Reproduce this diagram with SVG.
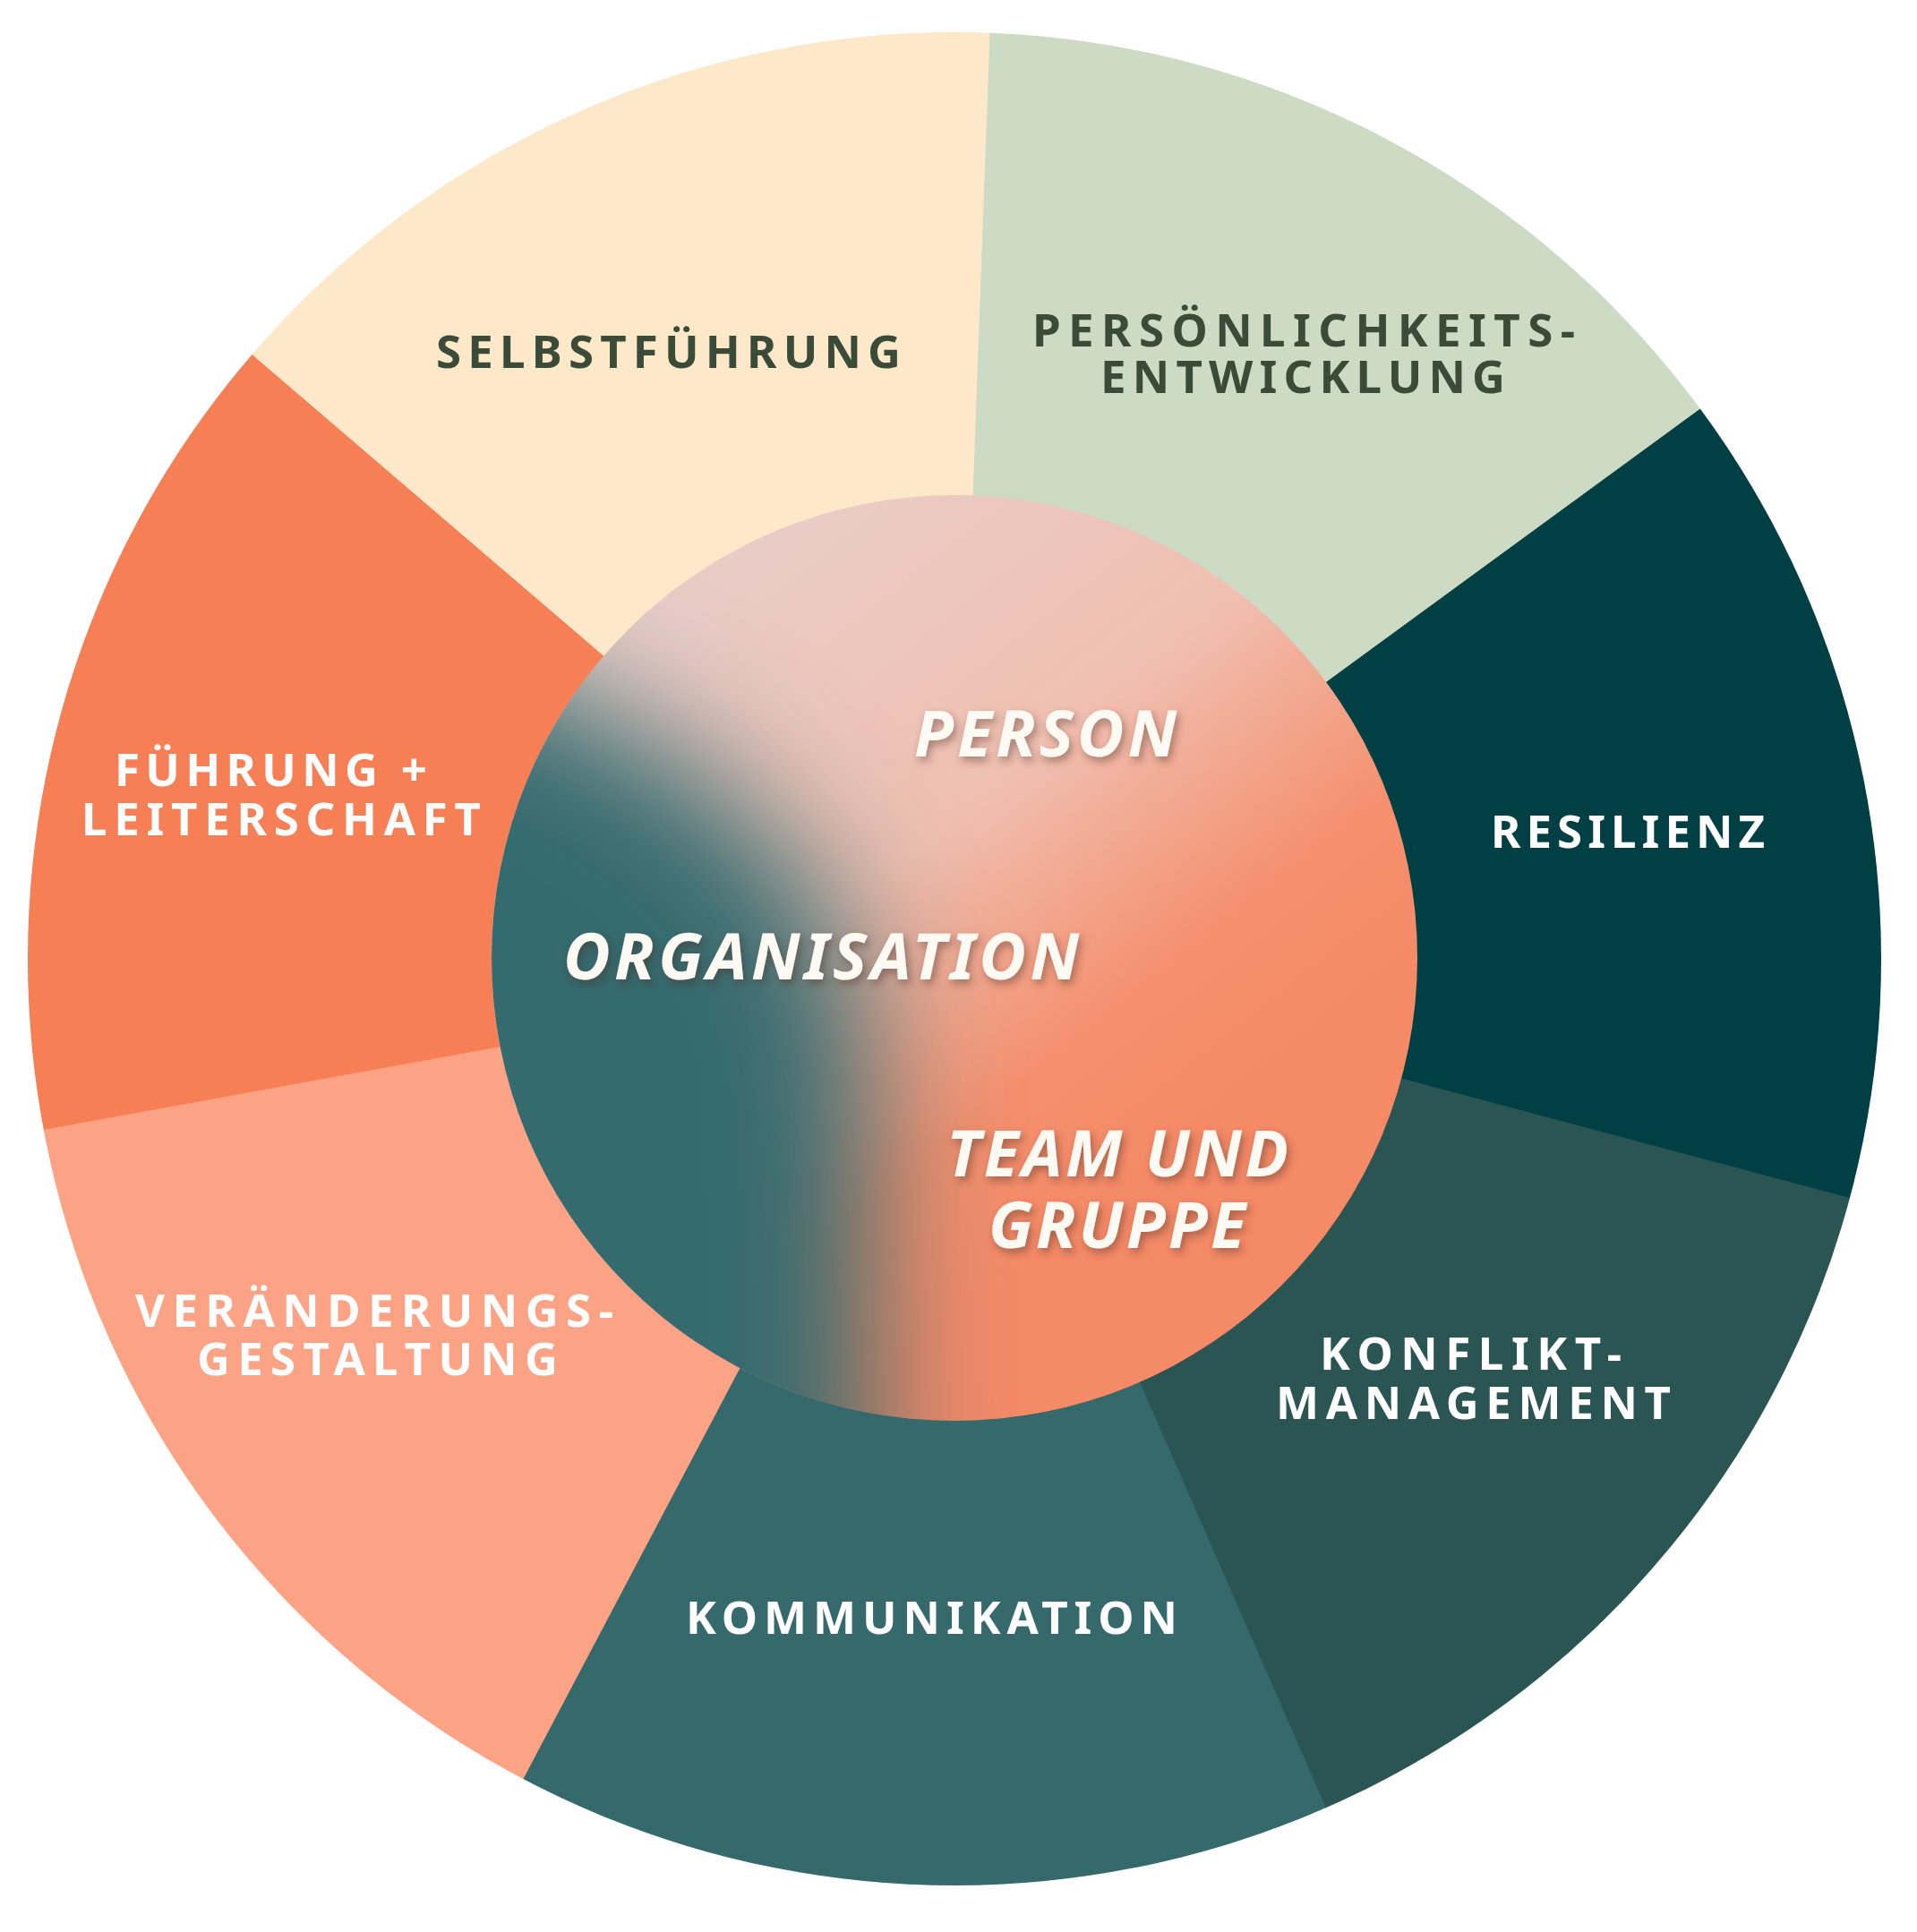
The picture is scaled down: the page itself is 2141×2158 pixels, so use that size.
<svg xmlns="http://www.w3.org/2000/svg" width="2141" height="2158" viewBox="0 0 2141 2158">
<style>
.lbl{font-family:'Noto Sans','Liberation Sans',sans-serif;font-weight:700;font-size:51px;}
.dark{fill:#3A4B37;}
.light{fill:#FFFFFF;}
.core{font-family:'Noto Sans','Liberation Sans',sans-serif;font-weight:700;font-style:italic;font-size:72px;fill:#FCFAF3;filter:url(#shadow);}
</style>
<defs>
<clipPath id="outerClip"><circle cx="1066" cy="1071" r="1035"/></clipPath>
<clipPath id="innerClip"><circle cx="1066" cy="1070" r="517"/></clipPath>
<linearGradient id="warm" gradientUnits="userSpaceOnUse" x1="850" y1="620" x2="1350" y2="1250">
<stop offset="0" stop-color="#EACCC6"/>
<stop offset="0.45" stop-color="#F0BFB1"/>
<stop offset="0.8" stop-color="#F5906E"/>
<stop offset="1" stop-color="#F58A67"/>
</linearGradient>
<filter id="blurT" x="-50%" y="-50%" width="200%" height="200%"><feGaussianBlur stdDeviation="75"/></filter>
<filter id="shadow" x="-20%" y="-40%" width="140%" height="180%"><feDropShadow dx="3" dy="5" stdDeviation="5" flood-color="#4a2e28" flood-opacity="0.45"/></filter>
</defs>
<rect width="2141" height="2158" fill="#FFFFFF"/>
<g clip-path="url(#outerClip)">
<g id="seg-persoenlichkeit">
<polygon points="1086,555 1124,-481 2315,153 1483,761 1066,1071" fill="#CDDAC4" stroke="#CDDAC4" stroke-width="1"/>
<text class="lbl dark" x="1153" y="387" textLength="606" lengthAdjust="spacing">PERSÖNLICHKEITS-</text>
<text class="lbl dark" x="1229" y="439" textLength="452" lengthAdjust="spacing">ENTWICKLUNG</text>
</g>
<g id="seg-resilienz">
<polygon points="1483,761 2315,153 2559,1470 1569,1206 1066,1071" fill="#003F44" stroke="#003F44" stroke-width="1"/>
<text class="lbl light" x="1665" y="947" textLength="306" lengthAdjust="spacing">RESILIENZ</text>
</g>
<g id="seg-konflikt">
<polygon points="1569,1206 2559,1470 1685,2487 1273,1545 1066,1071" fill="#2A5552" stroke="#2A5552" stroke-width="1"/>
<text class="lbl light" x="1474" y="1530" textLength="337" lengthAdjust="spacing">KONFLIKT-</text>
<text class="lbl light" x="1425" y="1585" textLength="441" lengthAdjust="spacing">MANAGEMENT</text>
</g>
<g id="seg-kommunikation">
<polygon points="1273,1545 1685,2487 344,2442 826,1528 1066,1071" fill="#35696C" stroke="#35696C" stroke-width="1"/>
<text class="lbl light" x="766" y="1825" textLength="549" lengthAdjust="spacing">KOMMUNIKATION</text>
</g>
<g id="seg-veraenderung">
<polygon points="826,1528 344,2442 -455,1353 557,1169 1066,1071" fill="#FCA385" stroke="#FCA385" stroke-width="1"/>
<text class="lbl light" x="151" y="1482" textLength="534" lengthAdjust="spacing">VERÄNDERUNGS-</text>
<text class="lbl light" x="220" y="1536" textLength="403" lengthAdjust="spacing">GESTALTUNG</text>
</g>
<g id="seg-fuehrung">
<polygon points="557,1169 -455,1353 -110,60 674,732 1066,1071" fill="#F77F55" stroke="#F77F55" stroke-width="1"/>
<text class="lbl light" x="128" y="878" textLength="349" lengthAdjust="spacing">FÜHRUNG +</text>
<text class="lbl light" x="91" y="933" textLength="446" lengthAdjust="spacing">LEITERSCHAFT</text>
</g>
<g id="seg-selbstfuehrung">
<polygon points="674,732 -110,60 1124,-481 1086,555 1066,1071" fill="#FDE8CA" stroke="#FDE8CA" stroke-width="1"/>
<text class="lbl dark" x="487" y="411" textLength="519" lengthAdjust="spacing">SELBSTFÜHRUNG</text>
</g>
</g>
<g id="core">
<g clip-path="url(#innerClip)">
<rect x="540" y="540" width="1060" height="1060" fill="url(#warm)"/>
<polygon points="250,700 560,740 780,860 920,1000 970,1160 975,1750 250,1750" fill="#356B6E" filter="url(#blurT)"/>
</g>
<text class="core" x="1021" y="845" textLength="293" lengthAdjust="spacing">PERSON</text>
<text class="core" x="629" y="1094" textLength="576" lengthAdjust="spacing">ORGANISATION</text>
<text class="core" x="1057" y="1314" textLength="382" lengthAdjust="spacing">TEAM UND</text>
<text class="core" x="1104" y="1394" textLength="287" lengthAdjust="spacing">GRUPPE</text>
</g>
</svg>
